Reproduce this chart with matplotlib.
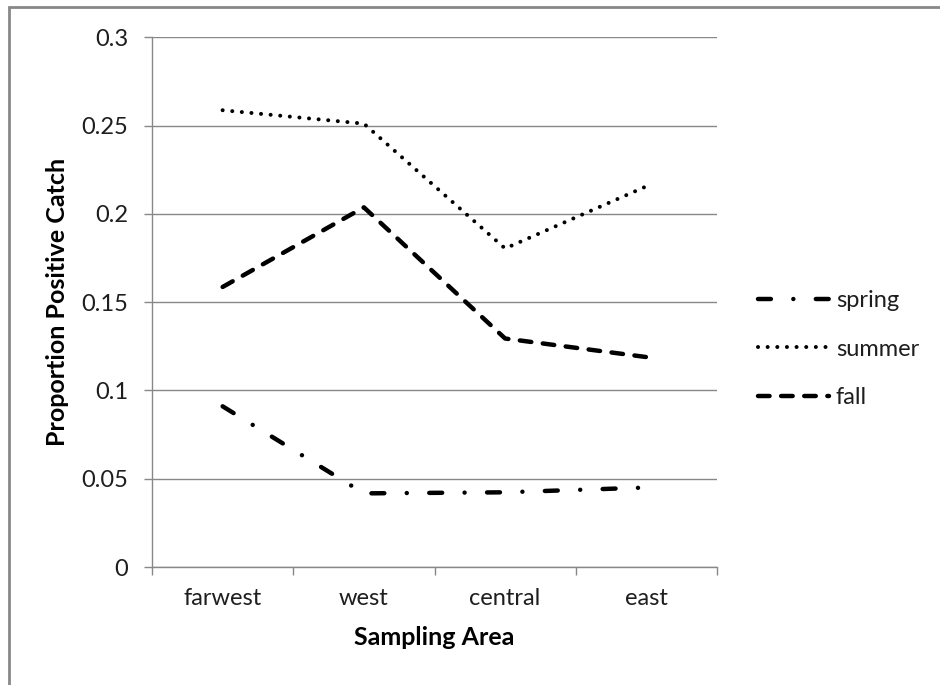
import matplotlib
matplotlib.use("Agg")
import matplotlib.pyplot as plt
from matplotlib.patches import Rectangle

# catch rates by sampling area and season
areas = ["farwest", "west", "central", "east"]
spring = [0.091, 0.0417, 0.0423, 0.045]
summer = [0.2587, 0.2511, 0.1804, 0.2156]
fall = [0.1586, 0.2037, 0.1294, 0.1189]

plt.rcParams["font.family"] = ["Lato", "DejaVu Sans"]
GRID = "#888888"
TXT = "#1e1e1e"

fig = plt.figure(figsize=(9.4, 6.85), dpi=100)
ax = fig.add_axes([152 / 940, 1 - 567 / 685, 565 / 940, (567 - 37.3) / 685])

x = range(len(areas))
lw = 3.2
l_spring, = ax.plot(x, spring, color="black", lw=lw, dash_capstyle="round",
                    dashes=(2.9, 5.05, 0.01, 5.05), label="spring")
l_summer, = ax.plot(x, summer, color="black", lw=lw * 0.9, dash_capstyle="round",
                    dashes=(0.01, 2.4), label="summer")
l_fall, = ax.plot(x, fall, color="black", lw=lw, dash_capstyle="round",
                  dashes=(2.6, 2.6), label="fall")

ax.set_xlim(-0.5, 3.5)
ax.set_ylim(0, 0.3)
ax.set_yticks([0, 0.05, 0.1, 0.15, 0.2, 0.25, 0.3])
ax.set_yticklabels(["0", "0.05", "0.1", "0.15", "0.2", "0.25", "0.3"])
ax.set_xticks(list(x))
ax.set_xticklabels(areas)
ax.set_xticks([-0.5, 0.5, 1.5, 2.5, 3.5], minor=True)
ax.tick_params(axis="x", which="major", length=0, pad=15, labelsize=17, labelcolor=TXT)
ax.tick_params(axis="x", which="minor", length=6, width=1, color=GRID)
ax.tick_params(axis="y", length=6, width=1, color=GRID, pad=11, labelsize=17, labelcolor=TXT)

ax.grid(axis="y", color=GRID, lw=1)
ax.set_axisbelow(True)
for side in ["top", "right"]:
    ax.spines[side].set_visible(False)
for side in ["left", "bottom"]:
    ax.spines[side].set_color(GRID)
    ax.spines[side].set_linewidth(1)

ax.set_xlabel("Sampling Area", fontsize=18, fontweight="bold", color="black")
ax.set_ylabel("Proportion Positive Catch", fontsize=18, fontweight="bold", color="black")
ax.xaxis.set_label_coords(0.5, -0.112)
ax.yaxis.set_label_coords(-0.147, 0.5)

fig.legend(handles=[l_spring, l_summer, l_fall], loc="center left",
           bbox_to_anchor=(758 / 940, 1 - 349 / 685), frameon=False,
           fontsize=17, handlelength=3.0, handletextpad=0.3, labelspacing=1.17,
           borderpad=0, borderaxespad=0, labelcolor=TXT)

# chart frame (only top and left edges fall inside the image)
fig.patches.append(Rectangle((9 / 940, -0.05), 1.2, 1 - 7 / 685 + 0.05,
                             transform=fig.transFigure, fill=False,
                             edgecolor=GRID, lw=2))

fig.savefig("out.png", dpi=100)
